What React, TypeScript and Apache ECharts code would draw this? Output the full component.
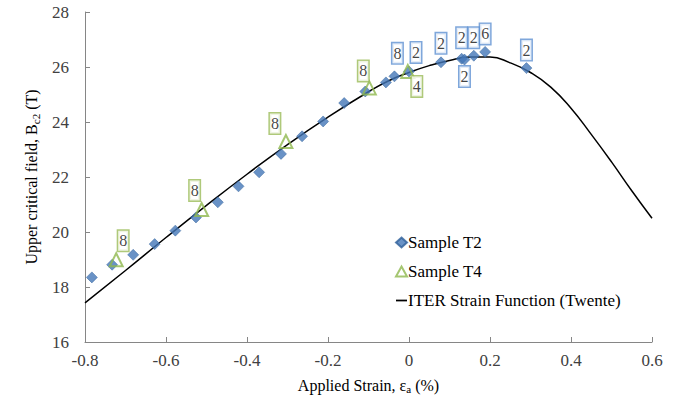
import React, { useEffect, useRef } from "react";
import * as echarts from "echarts";

// Sample T2 (diamonds)
const t2X = [-0.783, -0.733, -0.681, -0.628, -0.577, -0.526, -0.472, -0.421, -0.37, -0.316, -0.264, -0.212, -0.16, -0.108, -0.057, -0.036, 0.0, 0.079, 0.13, 0.137, 0.16, 0.188, 0.29];
const t2Y = [18.35, 18.81, 19.17, 19.56, 20.05, 20.53, 21.08, 21.66, 22.17, 22.84, 23.48, 24.02, 24.69, 25.11, 25.44, 25.66, 25.84, 26.17, 26.3, 26.27, 26.41, 26.55, 25.96];
const t2Labels = ["", "", "", "", "", "", "", "", "", "", "", "", "", "", "", "8", "2", "2", "2", "2", "2", "6", "2"];

// Sample T4 (hollow triangles)
const t4X = [-0.723, -0.512, -0.304, -0.098, -0.003];
const t4Y = [18.99, 20.82, 23.29, 25.24, 25.84];
const t4Labels = ["8", "8", "8", "8", "4"];

// ITER strain function (Twente) curve
const curveX = [-0.8, -0.7, -0.6, -0.5, -0.4, -0.3, -0.2, -0.1, -0.05, 0, 0.05, 0.1, 0.15, 0.2, 0.25, 0.3, 0.35, 0.4, 0.45, 0.5, 0.55, 0.6];
const curveY = [17.42, 18.6, 19.8, 20.97, 22.1, 23.18, 24.18, 25.1, 25.5, 25.8, 26.05, 26.24, 26.36, 26.36, 26.15, 25.8, 25.27, 24.5, 23.55, 22.55, 21.5, 20.5];

const seriesNames = ["Sample T2", "Sample T4", "ITER Strain Function (Twente)"];

// label offsets (styling)
const t2Offsets: Record<number, [number, number]> = {
  15: [3, -23],
  16: [7, -19],
  17: [0, -19],
  18: [0, -21],
  19: [0, 17],
  20: [0, -18],
  21: [0, -18],
  22: [0, -18],
};
const t4Offsets: [number, number][] = [[7, -19], [-7, -19], [-11, -18], [-6, -17], [9, 15]];

const FONT = "Liberation Serif";

export default function App() {
  const ref = useRef<HTMLDivElement>(null);
  useEffect(() => {
    document.body.style.margin = "0";
    if (!ref.current) return;
    const chart = echarts.init(ref.current, null, { renderer: "svg" });
    const labelBase = {
      show: true,
      position: "inside",
      color: "#111",
      textBorderWidth: 0,
      textBorderColor: "transparent",
      fontFamily: FONT,
      fontSize: 16,
      lineHeight: 17,
      backgroundColor: "#fff",
      borderWidth: 1.5,
      padding: [2, 1, 1, 1],
    };
    const t2Data = t2X.map((x, i) => {
      const item: any = { value: [x, t2Y[i]] };
      if (t2Labels[i]) {
        item.label = { ...labelBase, formatter: t2Labels[i], offset: t2Offsets[i] || [0, -18], borderColor: "#5f91d2" };
      }
      return item;
    });
    const t4Data = t4X.map((x, i) => ({
      value: [x, t4Y[i]],
      label: { ...labelBase, formatter: t4Labels[i], offset: t4Offsets[i], borderColor: "#9bbb59" },
    }));
    const curveData = curveX.map((x, i) => [x, curveY[i]]);

    const rich = {
      a: { fontFamily: FONT, fontSize: 16, color: "#000", lineHeight: 20 },
      s: { fontFamily: FONT, fontSize: 11, color: "#000", lineHeight: 20, padding: [8, 0, 0, 0] },
    };

    chart.setOption({
      animation: false,
      textStyle: { fontFamily: FONT },
      grid: { left: 85, right: 36, top: 12, bottom: 64, containLabel: false },
      legend: {
        orient: "vertical",
        left: 390,
        top: 228,
        itemGap: 10,
        itemWidth: 11,
        itemHeight: 10,
        textStyle: { fontFamily: FONT, fontSize: 17, color: "#000", lineHeight: 19, padding: [0, 0, 0, -4] },
        data: [
          { name: seriesNames[0], icon: "diamond" },
          { name: seriesNames[1], icon: "triangle" },
          { name: seriesNames[2], icon: "path://M0,4.2 L10,4.2 L10,5.8 L0,5.8 Z" },
        ],
      },
      xAxis: {
        type: "value",
        min: -0.8,
        max: 0.6,
        interval: 0.2,
        name: "{a|Applied Strain, ε}{s|a}{a| (%)}",
        nameLocation: "middle",
        nameGap: 33,
        nameTextStyle: { fontFamily: FONT, color: "#000", rich },
        axisLine: { onZero: false, lineStyle: { color: "#868686", width: 1 } },
        axisTick: { inside: true, length: 5, lineStyle: { color: "#868686" } },
        axisLabel: {
          fontFamily: FONT,
          fontSize: 17,
          color: "#404040",
          margin: 10,
          formatter: (v: number) => String(Number(v.toFixed(1))),
        },
        splitLine: { show: false },
      },
      yAxis: {
        type: "value",
        min: 16,
        max: 28,
        interval: 2,
        name: "{a|Upper critical field, B}{s|c2}{a| (T)}",
        nameLocation: "middle",
        nameGap: 43,
        nameRotate: 90,
        nameTextStyle: { fontFamily: FONT, color: "#000", rich },
        axisLine: { show: true, onZero: false, lineStyle: { color: "#868686", width: 1 } },
        axisTick: { show: true, inside: true, length: 5, lineStyle: { color: "#868686" } },
        axisLabel: { fontFamily: FONT, fontSize: 17, color: "#404040", margin: 16 },
        splitLine: { show: false },
      },
      series: [
        {
          name: seriesNames[0],
          type: "scatter",
          symbol: "diamond",
          symbolSize: 11,
          itemStyle: { color: "#4477b8", borderColor: "#30609a", borderWidth: 0.6 },
          data: t2Data,
          z: 3,
        },
        {
          name: seriesNames[1],
          type: "scatter",
          symbol: "triangle",
          symbolSize: 13,
          itemStyle: { color: "rgba(255,255,255,0)", borderColor: "#8fb84e", borderWidth: 2 },
          data: t4Data,
          z: 4,
        },
        {
          name: seriesNames[2],
          type: "line",
          smooth: true,
          showSymbol: false,
          symbol: "none",
          lineStyle: { color: "#000", width: 1.5 },
          itemStyle: { color: "#000" },
          data: curveData,
          z: 2,
        },
      ],
    });
    return () => chart.dispose();
  }, []);
  return <div ref={ref} style={{ width: 688, height: 406 }} />;
}
